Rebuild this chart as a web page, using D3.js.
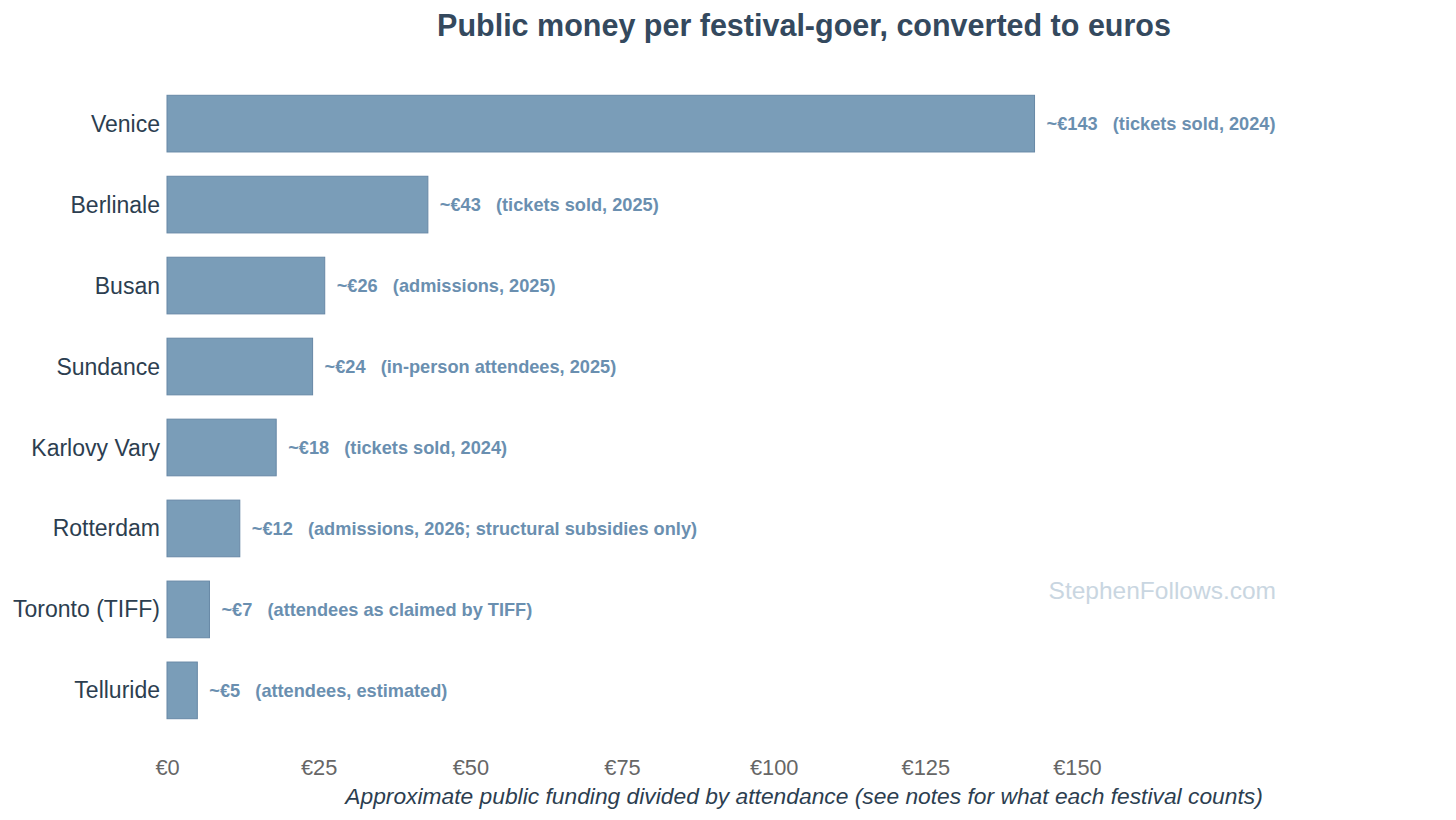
<!DOCTYPE html>
<html lang="en">
<head>
<meta charset="UTF-8">
<title>Public money per festival-goer</title>
<script src="https://cdn.jsdelivr.net/npm/d3@7/dist/d3.min.js"></script>
<style>
  body { margin: 0; background: #fff; }
  svg { font-family: "Liberation Sans", Arial, sans-serif; }
  .cat { font-size: 23px; fill: #2c3e50; }
  .tick text { font-size: 21.8px; fill: #666; }
  .val { font-size: 18.2px; font-weight: bold; fill: #6a8fb0; white-space: pre; }
</style>
</head>
<body>
<script>
  // data
  var festivals = ["Venice", "Berlinale", "Busan", "Sundance", "Karlovy Vary",
                   "Rotterdam", "Toronto (TIFF)", "Telluride"];
  var perGoer = [143, 43, 26, 24, 18, 12, 7, 5];
  var notes = ["(tickets sold, 2024)", "(tickets sold, 2025)", "(admissions, 2025)",
               "(in-person attendees, 2025)", "(tickets sold, 2024)",
               "(admissions, 2026; structural subsidies only)",
               "(attendees as claimed by TIFF)", "(attendees, estimated)"];
  var ticks = [0, 25, 50, 75, 100, 125, 150];

  var width = 1456, height = 820;
  var left = 167, right = 1441;

  var svg = d3.select('body').append('svg')
      .attr('width', width).attr('height', height);

  var x = d3.scaleLinear().domain([0, 210]).range([left, right]);
  var y = d3.scaleBand().domain(festivals).range([71, 743]).padding(0.3);

  var rows = festivals.map(function(f, i) {
    return {name: f, value: perGoer[i], note: notes[i]};
  });

  svg.selectAll('rect.bar').data(rows).enter().append('rect')
      .attr('class', 'bar')
      .attr('x', x(0))
      .attr('y', d => y(d.name))
      .attr('width', d => x(d.value) - x(0))
      .attr('height', y.bandwidth())
      .attr('fill', '#7a9db8')
      .attr('stroke', '#6788a6')
      .attr('stroke-width', 1);

  svg.selectAll('text.cat').data(rows).enter().append('text')
      .attr('class', 'cat')
      .attr('x', left - 7)
      .attr('y', d => y(d.name) + y.bandwidth() / 2)
      .attr('dy', '0.35em')
      .attr('text-anchor', 'end')
      .text(d => d.name);

  svg.selectAll('text.val').data(rows).enter().append('text')
      .attr('class', 'val')
      .attr('x', d => x(d.value) + 12)
      .attr('y', d => y(d.name) + y.bandwidth() / 2)
      .attr('dy', '0.35em')
      .text(d => '~€' + d.value + '   ' + d.note);

  var axis = d3.axisBottom(x).tickValues(ticks)
      .tickFormat(d => '€' + d).tickSize(0).tickPadding(0);
  var gx = svg.append('g').attr('transform', 'translate(0,760)').call(axis);
  gx.select('.domain').remove();
  gx.selectAll('.tick text').attr('dy', '0.71em').attr('y', 0);

  svg.append('text')
      .attr('x', (left + right) / 2).attr('y', 804)
      .attr('text-anchor', 'middle')
      .style('font-size', '22.8px').style('font-style', 'italic')
      .style('fill', '#2c3e50')
      .text('Approximate public funding divided by attendance (see notes for what each festival counts)');

  svg.append('text')
      .attr('x', (left + right) / 2).attr('y', 36)
      .attr('text-anchor', 'middle')
      .style('font-size', '30.5px').style('font-weight', 'bold')
      .style('fill', '#34495e')
      .text('Public money per festival-goer, converted to euros');

  svg.append('text')
      .attr('x', 1276).attr('y', 599)
      .attr('text-anchor', 'end')
      .style('font-size', '24.5px')
      .style('fill', '#c9d6e1')
      .text('StephenFollows.com');
</script>
</body>
</html>
